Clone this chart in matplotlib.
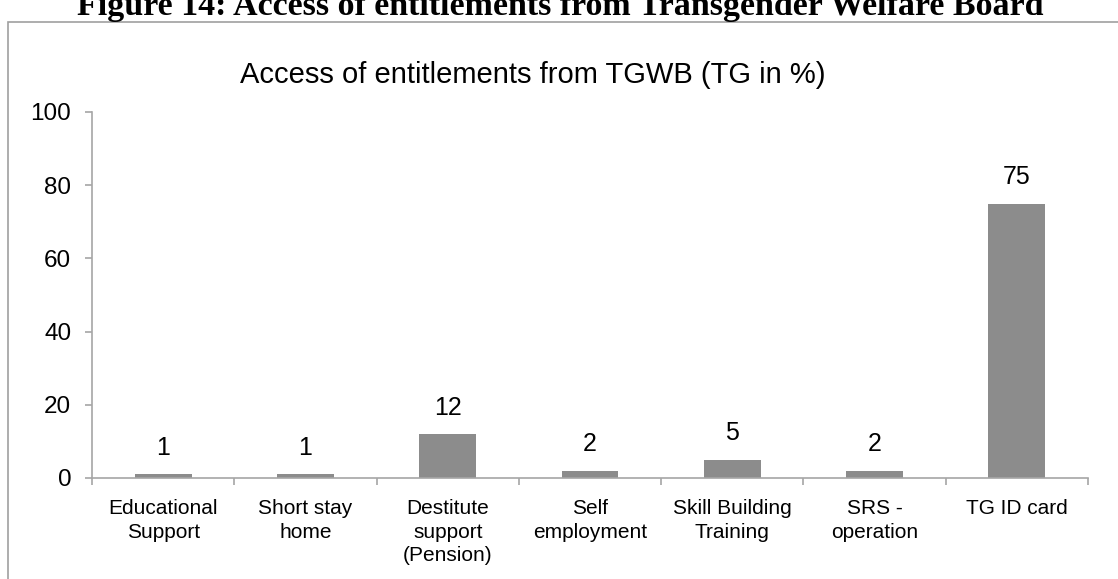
import matplotlib
matplotlib.use("Agg")
import matplotlib.pyplot as plt
from matplotlib.patches import Rectangle
import numpy as np

categories = ["Educational\nSupport", "Short stay\nhome", "Destitute\nsupport\n(Pension)",
              "Self\nemployment", "Skill Building\nTraining", "SRS -\noperation", "TG ID card"]
values = [1, 1, 12, 2, 5, 2, 75]
y_ticks = [0, 20, 40, 60, 80, 100]
title = "Access of entitlements from TGWB (TG in %)"
fig_caption = "Figure 14: Access of entitlements from Transgender Welfare Board"

plt.rcParams['font.family'] = ['Liberation Sans', 'DejaVu Sans']

W, H = 1118, 579
fig = plt.figure(figsize=(W / 100, H / 100), dpi=100)

# outer box
fig.patches.append(Rectangle((8 / W, -0.1), 1.2, (H - 22) / H + 0.1, transform=fig.transFigure,
                             fill=False, edgecolor="#a0a0a0", linewidth=1.2))
fig.text(560 / W, 1 - 15 / H, fig_caption, ha="center", va="baseline", fontsize=24.5,
         fontweight="bold", family=["Liberation Serif", "DejaVu Serif"], color="black")

ax = fig.add_axes([92 / W, (H - 478) / H, (1088 - 92) / W, (478 - 112) / H])
x = np.arange(len(values))
ax.bar(x, values, width=0.4, color="#8c8c8c", zorder=2)
for xi, v in zip(x, values):
    ax.annotate(str(v), (xi, v), xytext=(0, 14), textcoords="offset points",
                ha="center", va="baseline", fontsize=18)

ax.set_xlim(-0.5, len(values) - 0.5)
ax.set_ylim(0, 100)
ax.set_yticks(y_ticks)
ax.set_yticklabels([str(t) for t in y_ticks], fontsize=17.5)
ax.set_xticks(x)
ax.set_xticklabels(categories, fontsize=15, linespacing=1.32)
ax.tick_params(axis="x", which="major", length=0, pad=15)
ax.set_xticks(np.arange(-0.5, len(values), 1.0), minor=True)
ax.tick_params(axis="x", which="minor", length=5, color="#a6a6a6", width=1.2)
ax.tick_params(axis="y", length=5, color="#a6a6a6", width=1.2, pad=10)
for s in ["top", "right"]:
    ax.spines[s].set_visible(False)
for s in ["left", "bottom"]:
    ax.spines[s].set_color("#a6a6a6")
    ax.spines[s].set_linewidth(1.2)

fig.text(533 / W, 1 - 75 / H, title, ha="center", va="center", fontsize=21)

fig.savefig("out.png", dpi=100)
